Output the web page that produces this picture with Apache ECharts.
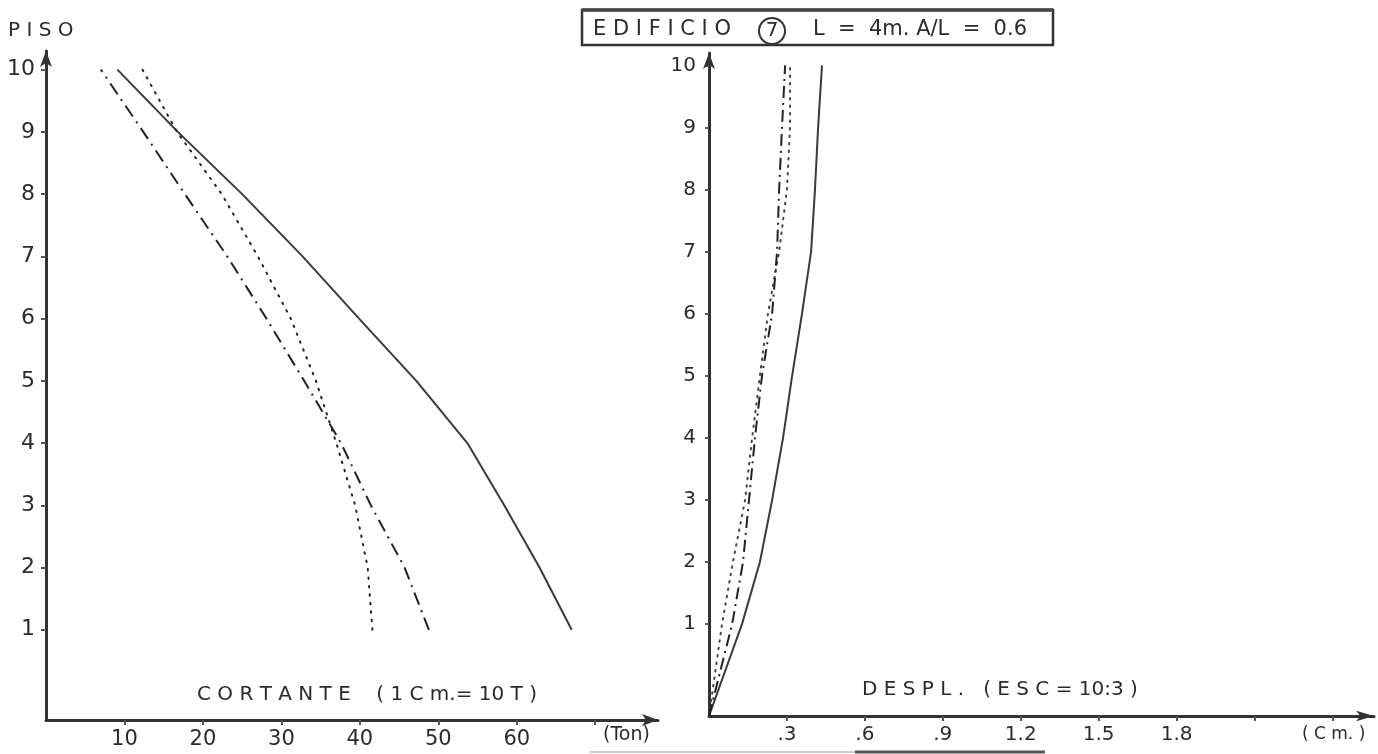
<!DOCTYPE html>
<html>
<head>
<meta charset="utf-8">
<script src="https://cdn.jsdelivr.net/npm/echarts@6/dist/echarts.min.js"></script>
<style>
  html, body { margin: 0; padding: 0; background: #ffffff; }
  #chart { width: 1378px; height: 754px; }
</style>
</head>
<body>
<div id="chart"></div>
<script>
// Floor numbers (PISO)
const floors = [1, 2, 3, 4, 5, 6, 7, 8, 9, 10];

// Storey shear, tonnes (CORTANTE), per floor 1..10
const shearSolid   = [67.0, 62.9, 58.4, 53.7, 47.2, 39.9, 32.7, 25.0, 16.8, 9.1];
const shearDotted  = [41.6, 41.0, 39.4, 37.0, 34.4, 31.2, 27.0, 22.4, 16.7, 12.3];
const shearDashDot = [48.8, 45.7, 41.4, 37.6, 32.9, 28.1, 23.1, 17.7, 12.4, 7.0];

// Lateral displacement, cm (DESPL.), per floor 1..10
const dispSolid   = [0.127, 0.196, 0.243, 0.285, 0.320, 0.358, 0.393, 0.408, 0.420, 0.435];
const dispDotted  = [0.050, 0.092, 0.139, 0.166, 0.196, 0.227, 0.270, 0.300, 0.312, 0.312];
const dispDashDot = [0.089, 0.131, 0.154, 0.177, 0.204, 0.243, 0.262, 0.270, 0.281, 0.293];

// Ground level of the displacement plot (zero displacement at the base)
const GROUND = -0.48;

// Tick values and labels
const shearTicks = [10, 20, 30, 40, 50, 60, 70];
const shearLabels = [10, 20, 30, 40, 50, 60];
const dispTicks = [0.3, 0.6, 0.9, 1.2, 1.5, 1.8, 2.1, 2.4];
const dispLabels = [0.3, 0.6, 0.9, 1.2, 1.5, 1.8];

const INK = '#2b2b2b';
const FONT = 'DejaVu Sans';

function pairs(xs, ys) { return xs.map((x, i) => [x, ys[i]]); }
function withGround(vals) { return [[0, GROUND]].concat(pairs(vals, floors)); }
function decimalLabel(v) {
  const s = String(Math.round(v * 10) / 10);
  return v < 1 ? s.replace(/^0/, '') : s;
}
function caption(text, left, top, size, extra) {
  return Object.assign({
    type: 'text', left: left, top: top,
    style: { text: text, fill: INK, fontFamily: FONT, fontSize: size }
  }, extra || {});
}

const axisLineStyle = { color: '#333', width: 3 };
const tickStyle = { color: '#555', width: 2 };

const chart = echarts.init(document.getElementById('chart'), null, { renderer: 'canvas' });

chart.setOption({
  animation: false,
  backgroundColor: '#ffffff',
  grid: [
    { left: 46, top: 51, width: 612, height: 669 },
    { left: 709, top: 53, width: 665, height: 663 }
  ],
  xAxis: [
    {
      gridIndex: 0, type: 'value', min: 0, max: 78,
      splitLine: { show: false },
      axisLine: { show: true, onZero: false, lineStyle: axisLineStyle, symbol: ['none', 'arrow'], symbolSize: [9, 16] },
      axisTick: { show: true, customValues: shearTicks, length: 5, lineStyle: tickStyle },
      axisLabel: { customValues: shearLabels, color: INK, fontFamily: FONT, fontSize: 21, margin: 9 }
    },
    {
      gridIndex: 1, type: 'value', min: 0, max: 2.56,
      splitLine: { show: false },
      axisLine: { show: true, onZero: false, lineStyle: axisLineStyle, symbol: ['none', 'arrow'], symbolSize: [8, 18] },
      axisTick: { show: true, customValues: dispTicks, length: 5, lineStyle: tickStyle },
      axisLabel: { customValues: dispLabels, color: INK, fontFamily: FONT, fontSize: 20, margin: 9, formatter: decimalLabel }
    }
  ],
  yAxis: [
    {
      gridIndex: 0, type: 'value', min: -0.45, max: 10.3,
      splitLine: { show: false },
      axisLine: { show: true, onZero: false, lineStyle: axisLineStyle, symbol: ['none', 'arrow'], symbolSize: [9, 16] },
      axisTick: { show: true, customValues: floors, length: 5, lineStyle: tickStyle },
      axisLabel: { customValues: floors, color: INK, fontFamily: FONT, fontSize: 22, margin: 11 }
    },
    {
      gridIndex: 1, type: 'value', min: GROUND, max: 10.2,
      splitLine: { show: false },
      axisLine: { show: true, onZero: false, lineStyle: axisLineStyle, symbol: ['none', 'arrow'], symbolSize: [9, 16] },
      axisTick: { show: true, customValues: floors, length: 4, lineStyle: tickStyle },
      axisLabel: { customValues: floors, color: INK, fontFamily: FONT, fontSize: 20, margin: 13 }
    }
  ],
  series: [
    {
      name: 'Cortante 1', type: 'line', xAxisIndex: 0, yAxisIndex: 0,
      data: pairs(shearSolid, floors), symbol: 'none',
      lineStyle: { color: '#3a3a3a', width: 2, type: 'solid' }
    },
    {
      name: 'Cortante 2', type: 'line', xAxisIndex: 0, yAxisIndex: 0,
      data: pairs(shearDotted, floors), symbol: 'none',
      lineStyle: { color: '#222', width: 2, type: [1.5, 7], cap: 'round' }
    },
    {
      name: 'Cortante 3', type: 'line', xAxisIndex: 0, yAxisIndex: 0,
      data: pairs(shearDashDot, floors), symbol: 'none',
      lineStyle: { color: '#222', width: 2, type: [13, 6, 2, 6] }
    },
    {
      name: 'Despl. 1', type: 'line', xAxisIndex: 1, yAxisIndex: 1,
      data: withGround(dispSolid), symbol: 'none',
      lineStyle: { color: '#3a3a3a', width: 2, type: 'solid' }
    },
    {
      name: 'Despl. 2', type: 'line', xAxisIndex: 1, yAxisIndex: 1,
      data: withGround(dispDotted), symbol: 'none',
      lineStyle: { color: '#444', width: 2, type: [1.5, 6], cap: 'round' }
    },
    {
      name: 'Despl. 3', type: 'line', xAxisIndex: 1, yAxisIndex: 1,
      data: withGround(dispDashDot), symbol: 'none',
      lineStyle: { color: '#222', width: 2, type: [12, 5, 2, 5] }
    }
  ],
  graphic: [
    // axis captions
    caption('P I S O', 8, 21, 20),
    caption('C O R T A N T E    ( 1 C m.= 10 T )', 197, 685, 20),
    caption('(Ton)', 603, 726, 19),
    caption('D E S P L .   ( E S C = 10:3 )', 862, 680, 20),
    caption('( C m. )', 1302, 726, 17),
    // title box
    { type: 'rect', shape: { x: 582, y: 10, width: 471, height: 35 }, style: { fill: 'none', stroke: '#333', lineWidth: 2.5 } },
    { type: 'line', shape: { x1: 582, y1: 10, x2: 1053, y2: 10 }, style: { stroke: '#444', lineWidth: 3.5 } },
    caption('E D I F I C I O', 593, 19, 21),
    { type: 'circle', shape: { cx: 772, cy: 31, r: 13 }, style: { fill: 'none', stroke: '#333', lineWidth: 2 } },
    { type: 'text', x: 772, y: 31, style: { text: '7', fill: INK, fontFamily: FONT, fontSize: 20, align: 'center', verticalAlign: 'middle' } },
    caption('L  =  4m. A/L  =  0.6', 813, 19, 21),
    // underline running below the axes
    { type: 'line', shape: { x1: 590, y1: 752, x2: 855, y2: 752 }, style: { stroke: '#bbb', lineWidth: 1.5 } },
    { type: 'line', shape: { x1: 855, y1: 752, x2: 1045, y2: 752 }, style: { stroke: '#555', lineWidth: 3 } }
  ]
});
</script>
</body>
</html>
